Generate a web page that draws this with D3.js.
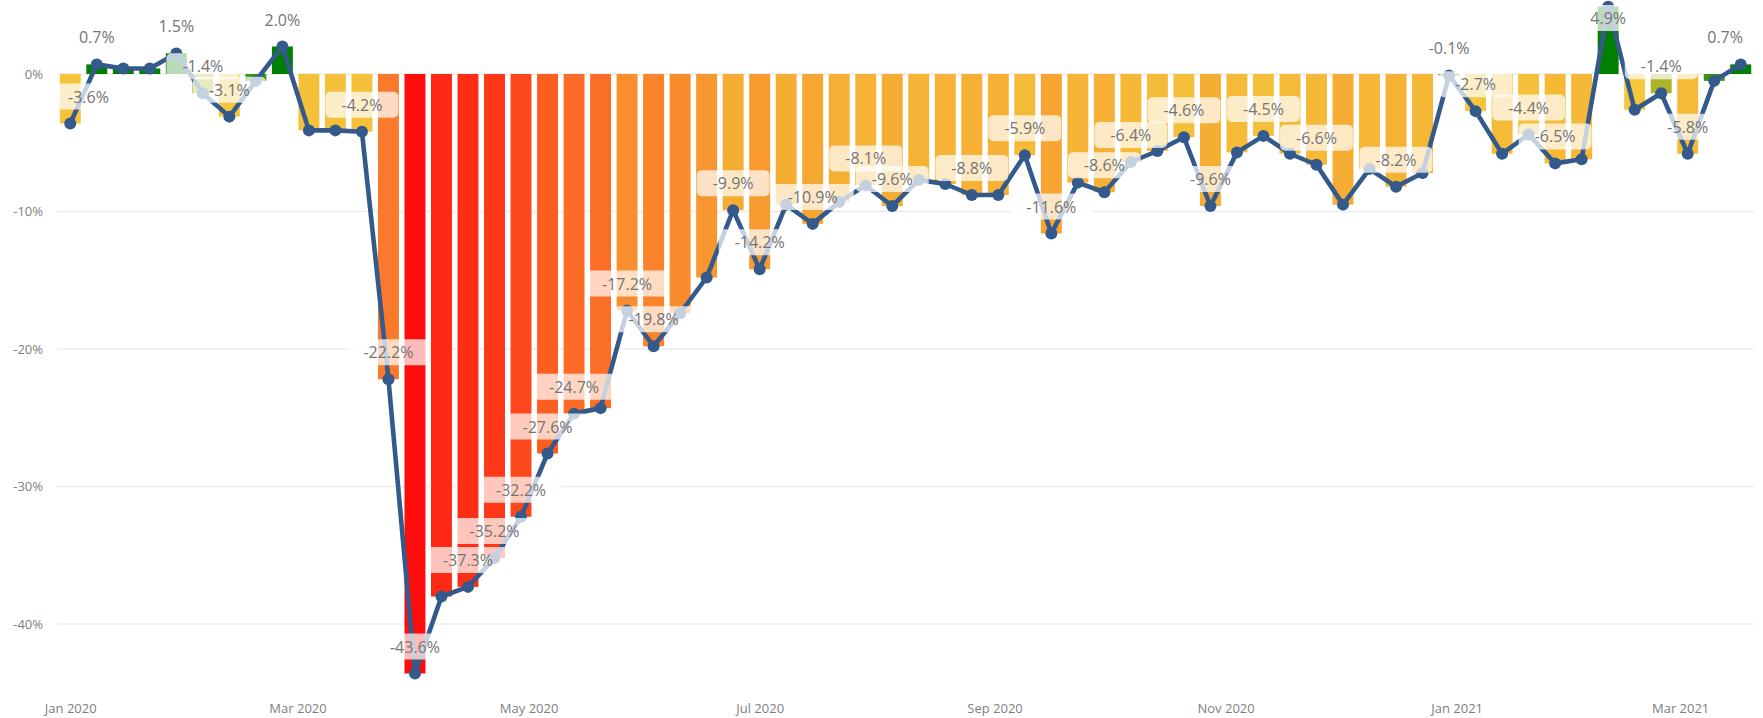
<!DOCTYPE html>
<html>
<head>
<meta charset="utf-8">
<script src="https://cdn.jsdelivr.net/npm/d3@7"></script>
<style>
body { margin: 0; background: #fff; }
text { font-family: "Segoe UI", "Open Sans", sans-serif; }
</style>
</head>
<body>
<svg id="chart" width="1763" height="718"></svg>
<script>
// weekly change vs. last year, first week starts 1 Jan 2020
var firstWeek = "2020-01-01"
var values = [
  -3.6, 0.7, 0.4, 0.4, 1.5, -1.4, -3.1, -0.5, 2.0, -4.1,
  -4.1, -4.2, -22.2, -43.6, -38.0, -37.3, -35.2, -32.2, -27.6, -24.7,
  -24.3, -17.2, -19.8, -17.4, -14.8, -9.9, -14.2, -9.5, -10.9, -9.3,
  -8.1, -9.6, -7.7, -8.0, -8.8, -8.8, -5.9, -11.6, -7.9, -8.6,
  -6.4, -5.6, -4.6, -9.6, -5.7, -4.5, -5.8, -6.6, -9.5, -6.9,
  -8.2, -7.2, -0.1, -2.7, -5.8, -4.4, -6.5, -6.2, 4.9, -2.6,
  -1.4, -5.8, -0.5, 0.7
]
// weeks that carry a data label
var labeled = [0, 1, 4, 5, 6, 8, 11, 12, 13, 15, 16, 17, 18, 19, 21, 22, 25, 26, 28, 30,
  31, 34, 36, 37, 39, 40, 42, 43, 45, 47, 50, 52, 53, 55, 56, 58, 60, 61, 63]
var yTicks = [0, -10, -20, -30, -40]
var xTicks = ["2020-01-01", "2020-03-01", "2020-05-01", "2020-07-01", "2020-09-01",
  "2020-11-01", "2021-01-01", "2021-03-01"]

var width = 1763, height = 718
var svg = d3.select("#chart")
var parse = d3.timeParse("%Y-%m-%d")
var start = parse(firstWeek)

var data = values.map(function(v, i) {
  return {date: d3.timeWeek.offset(start, i), value: v, i: i}
})

var x = d3.scaleTime()
  .domain([d3.timeHour.offset(data[0].date, -84), d3.timeHour.offset(data[data.length - 1].date, 84)])
  .range([57, 1754])
var y = d3.scaleLinear().domain([-40, 0]).range([624, 74])

// colour runs red -> orange -> yellow -> green
var color = d3.scaleLinear()
  .domain([-43.6, -22, -10, -2, 0])
  .range(["#ff0d0d", "#fb7a2a", "#f6ab33", "#f5c93c", "#007f00"])
  .clamp(true)

var bw = (x(d3.timeWeek.offset(start, 1)) - x(start)) * 0.79

// gridlines
svg.append("g").selectAll("line")
  .data(yTicks)
  .join("line")
  .attr("x1", 57).attr("x2", 1754)
  .attr("y1", function(d) { return y(d) }).attr("y2", function(d) { return y(d) })
  .attr("stroke", "#ececec").attr("stroke-width", 1.5)

// bars
svg.append("g").selectAll("rect")
  .data(data)
  .join("rect")
  .attr("x", function(d) { return x(d.date) - bw / 2 })
  .attr("width", bw)
  .attr("y", function(d) { return y(Math.max(0, d.value)) })
  .attr("height", function(d) { return Math.abs(y(d.value) - y(0)) })
  .attr("fill", function(d) { return color(d.value) })

// line + dots
var line = d3.line()
  .x(function(d) { return x(d.date) })
  .y(function(d) { return y(d.value) })

svg.append("path")
  .datum(data)
  .attr("d", line)
  .attr("fill", "none")
  .attr("stroke", "#345a8c")
  .attr("stroke-width", 4.6)
  .attr("stroke-linejoin", "round")

svg.append("g").selectAll("circle")
  .data(data)
  .join("circle")
  .attr("cx", function(d) { return x(d.date) })
  .attr("cy", function(d) { return y(d.value) })
  .attr("r", 6)
  .attr("fill", "#345a8c")

// data labels with a see-through box
var fmt = function(v) { return v.toFixed(1) + "%" }
var labelG = svg.append("g")
labeled.forEach(function(i) {
  var d = data[i]
  var g = labelG.append("g")
  var box = g.append("rect")
  var t = g.append("text")
    .text(fmt(d.value))
    .attr("font-size", 16)
    .attr("fill", "#747474")
    .attr("text-anchor", "middle")
  var tw = t.node().getComputedTextLength()
  var w = tw + 32, h = 26
  var cx = x(d.date)
  var cy = y(d.value) - 27
  if (cx - w / 2 < 52) cx = 52 + w / 2
  if (cx + w / 2 > 1759) cx = 1759 - w / 2
  if (cy - h / 2 < 5) cy = 5 + h / 2
  box.attr("x", cx - w / 2).attr("y", cy - h / 2)
    .attr("width", w).attr("height", h)
    .attr("rx", 5)
    .attr("fill", "#fff").attr("fill-opacity", 0.72)
  t.attr("x", cx).attr("y", cy + 6)
})

// axes
var yAxis = svg.append("g")
  .attr("transform", "translate(57,0)")
  .call(d3.axisLeft(y).tickValues(yTicks).tickFormat(function(d) { return d + "%" }).tickSize(0).tickPadding(14))
yAxis.select(".domain").remove()
yAxis.selectAll("text").attr("font-size", 13).attr("fill", "#808080")
  .style("font-family", '"Segoe UI", "Open Sans", sans-serif')

var xAxis = svg.append("g")
  .attr("transform", "translate(0,704)")
  .call(d3.axisBottom(x).tickValues(xTicks.map(parse)).tickFormat(d3.timeFormat("%b %Y")).tickSize(0).tickPadding(0))
xAxis.select(".domain").remove()
xAxis.selectAll("text").attr("font-size", 13).attr("fill", "#808080")
  .style("font-family", '"Segoe UI", "Open Sans", sans-serif')
</script>
</body>
</html>
